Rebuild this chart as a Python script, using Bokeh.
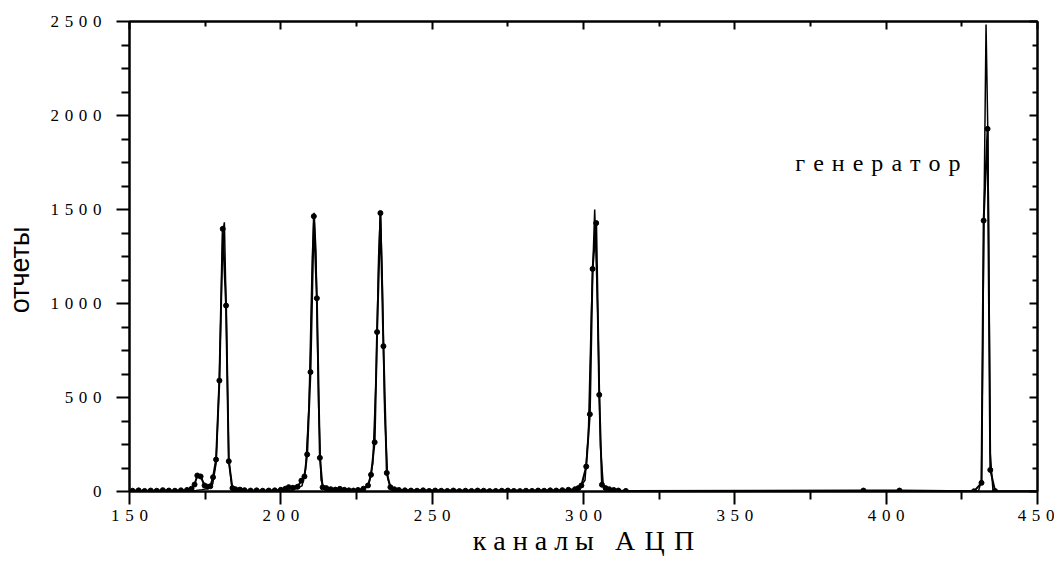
from bokeh.plotting import figure
from bokeh.models import Range1d, LinearAxis, Label, CustomJSTickFormatter, FixedTicker
from bokeh.embed import file_html
from bokeh.resources import INLINE

meas_ch = [151, 153, 155, 157, 159, 161, 163, 165, 167, 169, 170.5,
           171.5, 172.4, 173.5, 174.8, 175.8, 176.7, 177.6, 178.6, 179.7, 180.8, 181.9, 182.8, 184.0, 185.0,
           186.5, 188, 190, 192, 194, 196, 198, 200, 201.5,
           202.6, 204, 205.5, 206.8, 207.8, 208.7, 209.8, 210.9, 211.9, 212.9, 213.8,
           215, 216.5, 218, 219.5, 221, 222.5, 224, 225.5, 227.3,
           228.8, 229.8, 231.0, 231.8, 232.9, 233.9, 235.0, 236.2, 237.5, 239,
           241, 243, 245, 247, 249, 251, 253, 255, 257, 259, 261, 263, 265, 267,
           269, 271, 273, 275, 277, 279, 281, 283, 285, 287, 289, 291, 293, 295,
           297.2, 298.3, 299.3, 300.9, 302.1, 303.0, 304.2, 305.2, 306.1, 307.3, 308.5, 310, 311.5,
           314, 392.5, 404.4, 429,
           431.5, 432.2, 433.5, 434.4, 436]
meas_cnt = [4, 6, 3, 5, 4, 7, 5, 4, 6, 8, 15,
            37, 85, 80, 32, 25, 28, 76, 170, 590, 1397, 989, 161, 18, 12,
            10, 7, 5, 6, 4, 5, 6, 9, 15,
            23, 20, 25, 58, 80, 197, 635, 1464, 1028, 179, 22,
            18, 12, 10, 14, 9, 6, 5, 8, 15,
            32, 89, 262, 848, 1481, 773, 99, 23, 12, 8,
            6, 5, 4, 6, 3, 5, 4, 3, 5, 2, 4, 3, 5, 4,
            2, 3, 4, 5, 3, 2, 4, 3, 5, 4, 6, 5, 7, 9,
            12, 18, 32, 133, 411, 1184, 1428, 514, 36, 18, 12, 8, 5,
            3, 5, 5, 1,
            46, 1441, 1929, 115, 2]

# ---- fitted curve ----
fit_ch = [150, 170, 172, 174, 176, 177.5, 178.6, 179.7, 180.8, 181.35, 181.9, 182.8, 183.8, 185,
          200, 204, 207, 208.2, 209.3, 210.4, 211.0, 211.6, 212.5, 213.3, 214.5,
          226, 229, 230.4, 231.5, 232.3, 232.9, 233.5, 234.3, 235.3, 236.5,
          298, 300.5, 301.6, 302.6, 303.7, 304.7, 305.6, 306.6, 308,
          430.5, 431.5, 432.3, 433.0, 433.6, 434.4, 435.3, 450]
fit_cnt = [2, 3, 6, 10, 16, 40, 150, 600, 1380, 1432, 1000, 170, 25, 5,
           4, 8, 30, 120, 450, 1250, 1482, 1280, 450, 60, 8,
           5, 30, 150, 620, 1250, 1482, 1150, 420, 70, 8,
           5, 60, 300, 950, 1500, 950, 240, 20, 4,
           2, 60, 1450, 2484, 1900, 200, 3, 2]

x_major = [150, 200, 250, 300, 350, 400, 450]
x_minor = [175, 225, 275, 325, 375, 425]
y_major = [0, 500, 1000, 1500, 2000, 2500]
y_minor = [125, 250, 375, 625, 750, 875, 1125, 1250, 1375, 1625, 1750, 1875, 2125, 2250, 2375]

x_title = "каналы АЦП"
y_title = "отчеты"
note = "генератор"


def spaced(s, sp):
    return sp.join(list(s))


x_words = x_title.split(" ")
x_label_text = spaced(x_words[0], "\u2005") + "\u2002 " + spaced(x_words[1], "\u2004")

p = figure(width=1054, height=563, output_backend="svg", toolbar_location=None,
           x_range=Range1d(150, 450), y_range=Range1d(0, 2500),
           min_border_left=129, min_border_right=17, min_border_top=21, min_border_bottom=72)
p.grid.visible = False
p.outline_line_color = "black"
p.outline_line_width = 2
p.background_fill_color = "white"
p.border_fill_color = "white"

fmt = CustomJSTickFormatter(code="return String(tick).split('').join('\u2004');")

xa = p.xaxis[0]
xa.ticker = FixedTicker(ticks=x_major, minor_ticks=x_minor)
xa.formatter = fmt
ya = p.yaxis[0]
ya.ticker = FixedTicker(ticks=y_major, minor_ticks=y_minor)
ya.formatter = fmt

for ax in (xa, ya):
    ax.axis_line_width = 2
    ax.major_tick_line_width = 2
    ax.minor_tick_line_width = 2
    ax.major_tick_in = 0
    ax.major_tick_out = 13
    ax.minor_tick_in = 0
    ax.minor_tick_out = 8
    ax.major_label_text_font = "Liberation Serif"
    ax.major_label_text_font_size = "17px"
    ax.major_label_text_color = "black"
    ax.axis_label_text_font_style = "normal"
    ax.axis_label_text_color = "black"

xa.major_label_standoff = 1
xa.axis_label = x_label_text
xa.axis_label_text_font = "Liberation Serif"
xa.axis_label_text_font_size = "28px"
xa.axis_label_standoff = -3

ya.major_label_standoff = 15
ya.axis_label = y_title + "\u2002\u2002"
ya.axis_label_text_font = "Liberation Sans"
ya.axis_label_text_font_size = "27px"
ya.axis_label_standoff = 12

for loc, tk in (("above", FixedTicker(ticks=x_major, minor_ticks=x_minor)),
                ("right", FixedTicker(ticks=y_major, minor_ticks=y_minor))):
    ax = LinearAxis(ticker=tk, formatter=CustomJSTickFormatter(code="return '';"))
    ax.axis_line_width = 2
    ax.major_tick_line_width = 2
    ax.minor_tick_line_width = 2
    ax.major_tick_in = 8
    ax.major_tick_out = 0
    ax.minor_tick_in = 5
    ax.minor_tick_out = 0
    ax.major_label_standoff = 0
    ax.major_label_text_font_size = "0px"
    p.add_layout(ax, loc)

p.line(fit_ch, fit_cnt, line_color="black", line_width=1.5)
p.line(meas_ch, meas_cnt, line_color="black", line_width=2)
p.scatter(meas_ch, meas_cnt, size=5, color="black")

p.add_layout(Label(x=370, y=1745, text=spaced(note, "\u2004"), text_font="Liberation Serif",
                   text_font_size="24px", text_color="black", text_baseline="alphabetic"))

open("out.html", "w").write(file_html(p, INLINE))
